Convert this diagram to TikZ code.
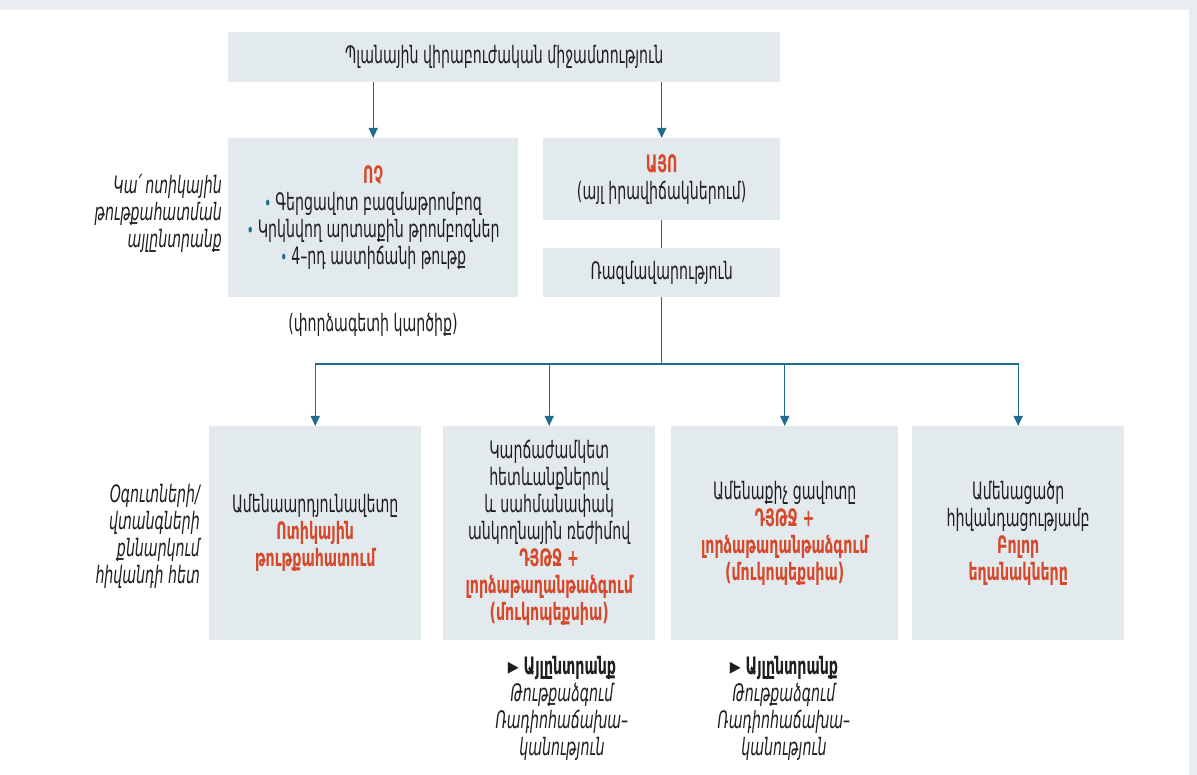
\documentclass[tikz,border=0pt]{standalone}
\usepackage{fontspec}
\setmainfont{DejaVu Sans}[FakeStretch=0.59]
\usetikzlibrary{arrows.meta}
\definecolor{boxfill}{HTML}{E3EAEE}
\definecolor{hot}{HTML}{D5482A}
\definecolor{linecol}{HTML}{1D6E8E}
\definecolor{frame}{HTML}{E9EDF0}
\definecolor{ink}{HTML}{1E1E1E}
\tikzset{
  box/.style={fill=boxfill, inner sep=0pt, anchor=north west, text=ink,
    align=center, font=\fontsize{24}{27}\selectfont},
  txt/.style={inner sep=0pt, text=ink, align=center, font=\fontsize{24}{27}\selectfont},
  side/.style={inner sep=0pt, text=ink, align=right, font=\fontsize{24}{27}\selectfont\itshape},
  link/.style={draw=linecol, line width=1.3pt},
  arr/.style={link, -{Triangle[width=9pt,length=10pt]}},
}
\newcommand{\hl}[1]{\textcolor{hot}{\bfseries #1}}
\newcommand{\bul}{\textcolor{linecol}{\fontsize{20}{20}\selectfont•}\,}
\begin{document}
\begin{tikzpicture}[x=1pt,y=-1pt]
  % page and panel
  \fill[frame] (0,0) rectangle (1197,775);
  \fill[white] (0,10) rectangle (1189,775);
  \useasboundingbox (0,0) rectangle (1197,775);

  % top: planned surgery
  \node[box, minimum width=552pt, minimum height=50pt] (top) at (228,32)
    {Պլանային վիրաբուժական միջամտություն};

  % "no" branch
  \node[box, minimum width=290pt, minimum height=159pt] (no) at (228,138)
    {\hl{ՈՉ}\\
     \bul Գերցավոտ բազմաթրոմբոզ\\
     \bul Կրկնվող արտաքին թրոմբոզներ\\
     \bul 4–րդ աստիճանի թութք};
  \node[txt] (expert) at (373,325) {(փորձագետի կարծիք)};

  % "yes" branch
  \node[box, minimum width=237pt, minimum height=82pt] (yes) at (543,138)
    {\hl{ԱՅՈ}\\(այլ իրավիճակներում)};
  \node[box, minimum width=237pt, minimum height=49pt] (strat) at (543,248)
    {Ռազմավարություն};

  % side notes
  \node[side, anchor=east] (n1) at (222,213)
    {Կա՛ ոտիկային\\թութքահատման\\այլընտրանք};
  \node[side, anchor=east] (n2) at (200,536)
    {Օգուտների/\\վտանգների\\քննարկում\\հիվանդի հետ};

  % options
  \node[box, minimum width=212pt, minimum height=214pt] (b1) at (209,426)
    {Ամենաարդյունավետը\\\hl{Ոտիկային}\\\hl{թութքահատում}};
  \node[box, minimum width=212pt, minimum height=214pt] (b2) at (443,426)
    {Կարճաժամկետ\\հետևանքներով\\և սահմանափակ\\անկողնային ռեժիմով\\
     \hl{ԴՅԹՋ +}\\\hl{լորձաթաղանթաձգում}\\\hl{(մուկոպեքսիա)}};
  \node[box, minimum width=227pt, minimum height=214pt] (b3) at (671,426)
    {Ամենաքիչ ցավոտը\\\hl{ԴՅԹՋ +}\\\hl{լորձաթաղանթաձգում}\\\hl{(մուկոպեքսիա)}};
  \node[box, minimum width=212pt, minimum height=214pt] (b4) at (912,426)
    {Ամենացածր\\հիվանդացությամբ\\\hl{Բոլոր}\\\hl{եղանակները}};

  % alternatives below options
  \node[txt, anchor=north] (alt2) at (562,656)
    {\textbf{► Այլընտրանք}\\\itshape Թութքաձգում\\\itshape Ռադիոհաճախա–\\\itshape կանություն};
  \node[txt, anchor=north] (alt3) at (784,656)
    {\textbf{► Այլընտրանք}\\\itshape Թութքաձգում\\\itshape Ռադիոհաճախա–\\\itshape կանություն};

  % connectors
  \draw[arr] (top.south -| no.north) -- (no.north);
  \draw[arr] (top.south -| yes.north) -- (yes.north);
  \draw[link] (yes.south) -- (strat.north);
  \coordinate (j) at (strat.south |- 0,364);
  \draw[link] (strat.south) -- (j);
  \draw[arr] (j) -| (b1.north);
  \draw[arr] (j) -| (b2.north);
  \draw[arr] (j) -| (b3.north);
  \draw[arr] (j) -| (b4.north);
\end{tikzpicture}
\end{document}
